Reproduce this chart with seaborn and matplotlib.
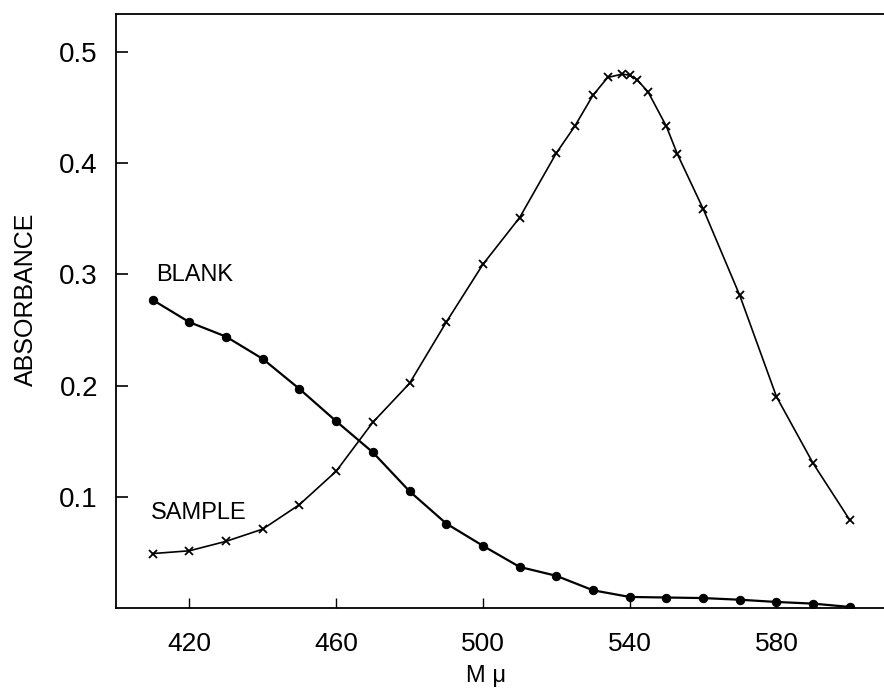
import matplotlib
matplotlib.use("Agg")
import matplotlib.pyplot as plt
import numpy as np
import pandas as pd
import seaborn as sns

# blank (dots) and sample (crosses), absorbance vs wavelength in m-mu
blank_nm = [410, 420, 430, 440, 450, 460, 470, 480, 490, 500,
            510, 520, 530, 540, 550, 560, 570, 580, 590, 600]
blank_abs = [0.277, 0.257, 0.244, 0.224, 0.197, 0.168, 0.140, 0.105, 0.076, 0.056,
             0.037, 0.029, 0.016, 0.010, 0.0095, 0.009, 0.0075, 0.0055, 0.004, 0.001]

sample_nm = [410, 420, 430, 440, 450, 460, 470, 480, 490, 500, 510,
             520, 525, 530, 534, 538, 540, 542, 545, 550, 553,
             560, 570, 580, 590, 600]
sample_abs = [0.049, 0.0515, 0.060, 0.071, 0.093, 0.123, 0.167, 0.202, 0.257, 0.309, 0.351,
              0.409, 0.433, 0.461, 0.477, 0.480, 0.479, 0.475, 0.464, 0.433, 0.408,
              0.359, 0.281, 0.190, 0.130, 0.079]

y_ticks = [0.1, 0.2, 0.3, 0.4, 0.5]
x_ticks = [420, 460, 500, 540, 580]

sns.set_theme(style="white")
plt.rcParams["font.family"] = ["Liberation Sans", "DejaVu Sans"]
plt.rcParams["axes.edgecolor"] = "black"
plt.rcParams["axes.labelcolor"] = "black"
plt.rcParams["text.color"] = "black"

blank = pd.DataFrame({"nm": blank_nm, "abs": blank_abs})
sample = pd.DataFrame({"nm": sample_nm, "abs": sample_abs})

fig = plt.figure(figsize=(8.84, 6.91), dpi=100)
ax = fig.add_axes([0.1312, 0.120, 0.8688, 0.8597])

sns.lineplot(data=blank, x="nm", y="abs", ax=ax, color="black", lw=1.6,
             marker="o", markersize=6, markeredgecolor="black")
sns.lineplot(data=sample, x="nm", y="abs", ax=ax, color="black", lw=1.2,
             marker="x", markersize=6, markeredgewidth=1.3,
             markeredgecolor="black")

ax.set_xlim(400, 609.3)
ax.set_ylim(0, 0.534)
ax.set_xticks(x_ticks)
ax.set_yticks(y_ticks)
ax.set_yticklabels([f"{v:.1f}" for v in y_ticks])
ax.tick_params(axis="x", bottom=True, direction="in", length=7, width=1, pad=17,
               labelsize=19, colors="black")
ax.tick_params(axis="y", left=True, direction="in", length=8.5, width=1.2, pad=13,
               labelsize=20, colors="black")
ax.spines["right"].set_visible(False)
for s in ("left", "bottom", "top"):
    ax.spines[s].set_linewidth(1.3)

ax.set_xlabel("M μ", fontsize=17)
ax.xaxis.set_label_coords(0.482, -0.095)
ax.set_ylabel("ABSORBANCE", fontsize=18)
ax.yaxis.set_label_coords(-0.102, 0.52)

ax.text(411, 0.2995, "BLANK", fontsize=17, va="center", ha="left")
ax.text(409.6, 0.0854, "SAMPLE", fontsize=17, va="center", ha="left")

fig.savefig("out.png", dpi=100, facecolor="white")
